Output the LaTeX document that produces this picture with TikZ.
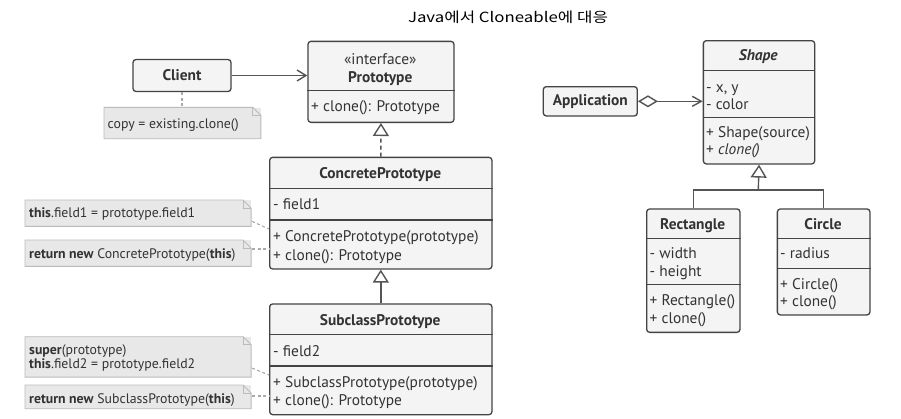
\documentclass[tikz,border=0pt]{standalone}
\usepackage{fontspec}
\setmainfont{PT Sans}
\newfontfamily\kr[FakeStretch=1.2]{Noto Sans CJK KR}
\usetikzlibrary{arrows.meta,calc}
\definecolor{txt}{HTML}{333333}
\definecolor{edgec}{HTML}{444444}
\definecolor{boxfill}{HTML}{F4F4F4}
\definecolor{notefill}{HTML}{E8E8E8}
\definecolor{noteedge}{HTML}{BBBBBB}
\definecolor{linkc}{HTML}{555555}
\definecolor{notelinkc}{HTML}{AAAAAA}
\begin{document}
\begin{tikzpicture}[x=1pt,y=-1pt,
  cbox/.style={draw=edgec, fill=boxfill, line width=1.3pt, rounded corners=3pt, inner sep=0pt},
  div/.style={draw=edgec, line width=1.3pt},
  hdr/.style={font=\fontsize{15.4pt}{18pt}\selectfont\bfseries, text=txt, anchor=base, inner sep=0pt},
  mem/.style={font=\fontsize{15.4pt}{18pt}\selectfont, text=txt, anchor=base west, inner sep=0pt},
  notebox/.style={fill=notefill, draw=none, inner sep=0pt, anchor=north west},
  notetxt/.style={font=\fontsize{13.8pt}{15pt}\selectfont, text=txt, anchor=base west, inner sep=0pt},
  notelink/.style={draw=notelinkc, line width=1.1pt, dash pattern=on 3pt off 2.5pt},
  assoc/.style={draw=linkc, line width=1.4pt, -{Straight Barb[length=9pt,width=11pt,line width=1.4pt]}},
  inh/.style={draw=linkc, line width=1.4pt, -{Triangle[open,length=13pt,width=16pt,line width=1.4pt]}},
  real/.style={inh, dash pattern=on 4pt off 3pt},
  agg/.style={draw=linkc, line width=1.4pt, {Diamond[open,length=20pt,width=12pt,line width=1.4pt]}-{Straight Barb[length=9pt,width=10pt,line width=1.4pt]}}
]
\useasboundingbox (0,0) rectangle (901,418);
\fill[white] (0,0) rectangle (901,418);

% title
\node[font=\kr\fontsize{14pt}{16pt}\selectfont, text=black] (title) at (508,17) {Java에서 Cloneable에 대응};

% note outline macro
\newcommand{\drawnote}[1]{%
  \draw[draw=noteedge, line width=0.9pt, fill=notefill]
    (#1.north west) -- ([xshift=-8pt]#1.north east) -- ([yshift=-8pt]#1.north east)
    -- (#1.south east) -- (#1.south west) -- cycle;
  \draw[draw=noteedge, line width=0.9pt]
    ([xshift=-8pt]#1.north east) -- ([xshift=-8pt,yshift=-8pt]#1.north east) -- ([yshift=-8pt]#1.north east);
}

% Client
\node[cbox, minimum width=98pt, minimum height=32pt, font=\fontsize{15.4pt}{18pt}\selectfont\bfseries, text=txt] (client) at (182,75.5) {Client};

% Prototype
\node[cbox, anchor=north west, minimum width=146pt, minimum height=81pt] (proto) at (307.3,40.7) {};
\draw[div] (proto.west |- 0,90.7) -- (proto.east |- 0,90.7);
\node[mem, anchor=base, font=\fontsize{15.4pt}{18pt}\selectfont] (protost) at (380.3,64) {«interface»};
\node[hdr] (protoname) at (380.3,82) {Prototype};
\node[mem] (protom1) at (311,111) {+ clone(): Prototype};

% copy note
\node[notebox, minimum width=156.5pt, minimum height=31pt] (copynote) at (104,107.3) {};
\drawnote{copynote}
\node[notetxt] (copytxt) at (107.5,128.7) {copy = existing.clone()};
\draw[notelink] (client.south) -- (client.south |- copynote.north);

% ConcretePrototype
\node[cbox, anchor=north west, minimum width=222.3pt, minimum height=111.6pt] (concrete) at (269,156.7) {};
\draw[div] (concrete.west |- 0,188.3) -- (concrete.east |- 0,188.3);
\draw[div] (concrete.west |- 0,220) -- (concrete.east |- 0,220);
\node[hdr] (concname) at (380.2,178) {ConcretePrototype};
\node[mem] (concf1) at (273,209.5) {- field1};
\node[mem] (concm1) at (273,241) {+ ConcretePrototype(prototype)};
\node[mem] (concm2) at (273,260.5) {+ clone(): Prototype};

% SubclassPrototype
\node[cbox, anchor=north west, minimum width=222.3pt, minimum height=110.7pt] (sub) at (269,303.3) {};
\draw[div] (sub.west |- 0,334.3) -- (sub.east |- 0,334.3);
\draw[div] (sub.west |- 0,366) -- (sub.east |- 0,366);
\node[hdr] (subname) at (380.2,325) {SubclassPrototype};
\node[mem] (subf1) at (273,356.5) {- field2};
\node[mem] (subm1) at (273,387) {+ SubclassPrototype(prototype)};
\node[mem] (subm2) at (273,405.5) {+ clone(): Prototype};

% notes left
\node[notebox, minimum width=225.7pt, minimum height=26pt] (n1) at (25,200) {};
\drawnote{n1}
\node[notetxt] (n1t) at (29,217.7) {\textbf{this}.field1 = prototype.field1};
\node[notebox, minimum width=225.7pt, minimum height=26pt] (n2) at (25,240) {};
\drawnote{n2}
\node[notetxt] (n2t) at (29,258) {\textbf{return new} ConcretePrototype(\textbf{this})};
\node[notebox, minimum width=225.7pt, minimum height=40pt] (n3) at (25,336.7) {};
\drawnote{n3}
\node[notetxt] (n3t) at (29,354) {\textbf{super}(prototype)};
\node[notetxt] (n3u) at (29,368.7) {\textbf{this}.field2 = prototype.field2};
\node[notebox, minimum width=225.7pt, minimum height=23.3pt] (n4) at (25,385) {};
\drawnote{n4}
\node[notetxt] (n4t) at (29,403) {\textbf{return new} SubclassPrototype(\textbf{this})};

\draw[notelink] ([xshift=1pt,yshift=5pt]n1.south east) -- (concrete.west |- 0,229);
\draw[notelink] ([xshift=1pt]n2.east |- 0,249) -- (concrete.west |- 0,249);
\draw[notelink] ([xshift=1pt,yshift=9pt]n3.south east) -- (sub.west |- 0,375);
\draw[notelink] ([xshift=1pt]n4.east |- 0,396) -- (sub.west |- 0,396);

% connectors left
\draw[assoc] (client.east) -- (client.east -| proto.west);
\draw[real] (concrete.north) -- (proto.south);
\draw[inh] (sub.north) -- (concrete.south);

% Application
\node[cbox, minimum width=94pt, minimum height=29.3pt, font=\fontsize{15.4pt}{18pt}\selectfont\bfseries, text=txt] (app) at (590.3,101.3) {Application};

% Shape
\node[cbox, anchor=north west, minimum width=111.3pt, minimum height=123.3pt] (shape) at (702.7,40) {};
\draw[div] (shape.west |- 0,70.7) -- (shape.east |- 0,70.7);
\draw[div] (shape.west |- 0,117.3) -- (shape.east |- 0,117.3);
\node[hdr, font=\fontsize{15.4pt}{18pt}\selectfont\bfseries\itshape] (shapename) at (758.3,60.5) {Shape};
\node[mem] (shf1) at (706,92) {- x, y};
\node[mem] (shf2) at (706,109) {- color};
\node[mem] (shm1) at (706,137) {+ Shape(source)};
\node[mem] (shm2) at (706,154.5) {+ \textit{clone()}};

% Rectangle
\node[cbox, anchor=north west, minimum width=93.3pt, minimum height=123.4pt] (rect) at (646,208.3) {};
\draw[div] (rect.west |- 0,238.3) -- (rect.east |- 0,238.3);
\draw[div] (rect.west |- 0,284.3) -- (rect.east |- 0,284.3);
\node[hdr] (rectname) at (692.7,229) {Rectangle};
\node[mem] (rf1) at (649.5,258) {- width};
\node[mem] (rf2) at (649.5,276.5) {- height};
\node[mem] (rm1) at (649.5,305.5) {+ Rectangle()};
\node[mem] (rm2) at (649.5,323) {+ clone()};

% Circle
\node[cbox, anchor=north west, minimum width=92.6pt, minimum height=106pt] (circ) at (776.7,208.3) {};
\draw[div] (circ.west |- 0,238.3) -- (circ.east |- 0,238.3);
\draw[div] (circ.west |- 0,268.3) -- (circ.east |- 0,268.3);
\node[hdr] (circname) at (823,229) {Circle};
\node[mem] (cf1) at (780,258) {- radius};
\node[mem] (cm1) at (780,289) {+ Circle()};
\node[mem] (cm2) at (780,306) {+ clone()};

% connectors right
\draw[agg] (app.east) -- (app.east -| shape.west);
\coordinate (junc) at (758.3,190);
\draw[draw=linkc, line width=1.4pt] (rect.north) |- (junc) -| (circ.north);
\draw[inh] (junc) -- (shape.south);
\end{tikzpicture}
\end{document}
